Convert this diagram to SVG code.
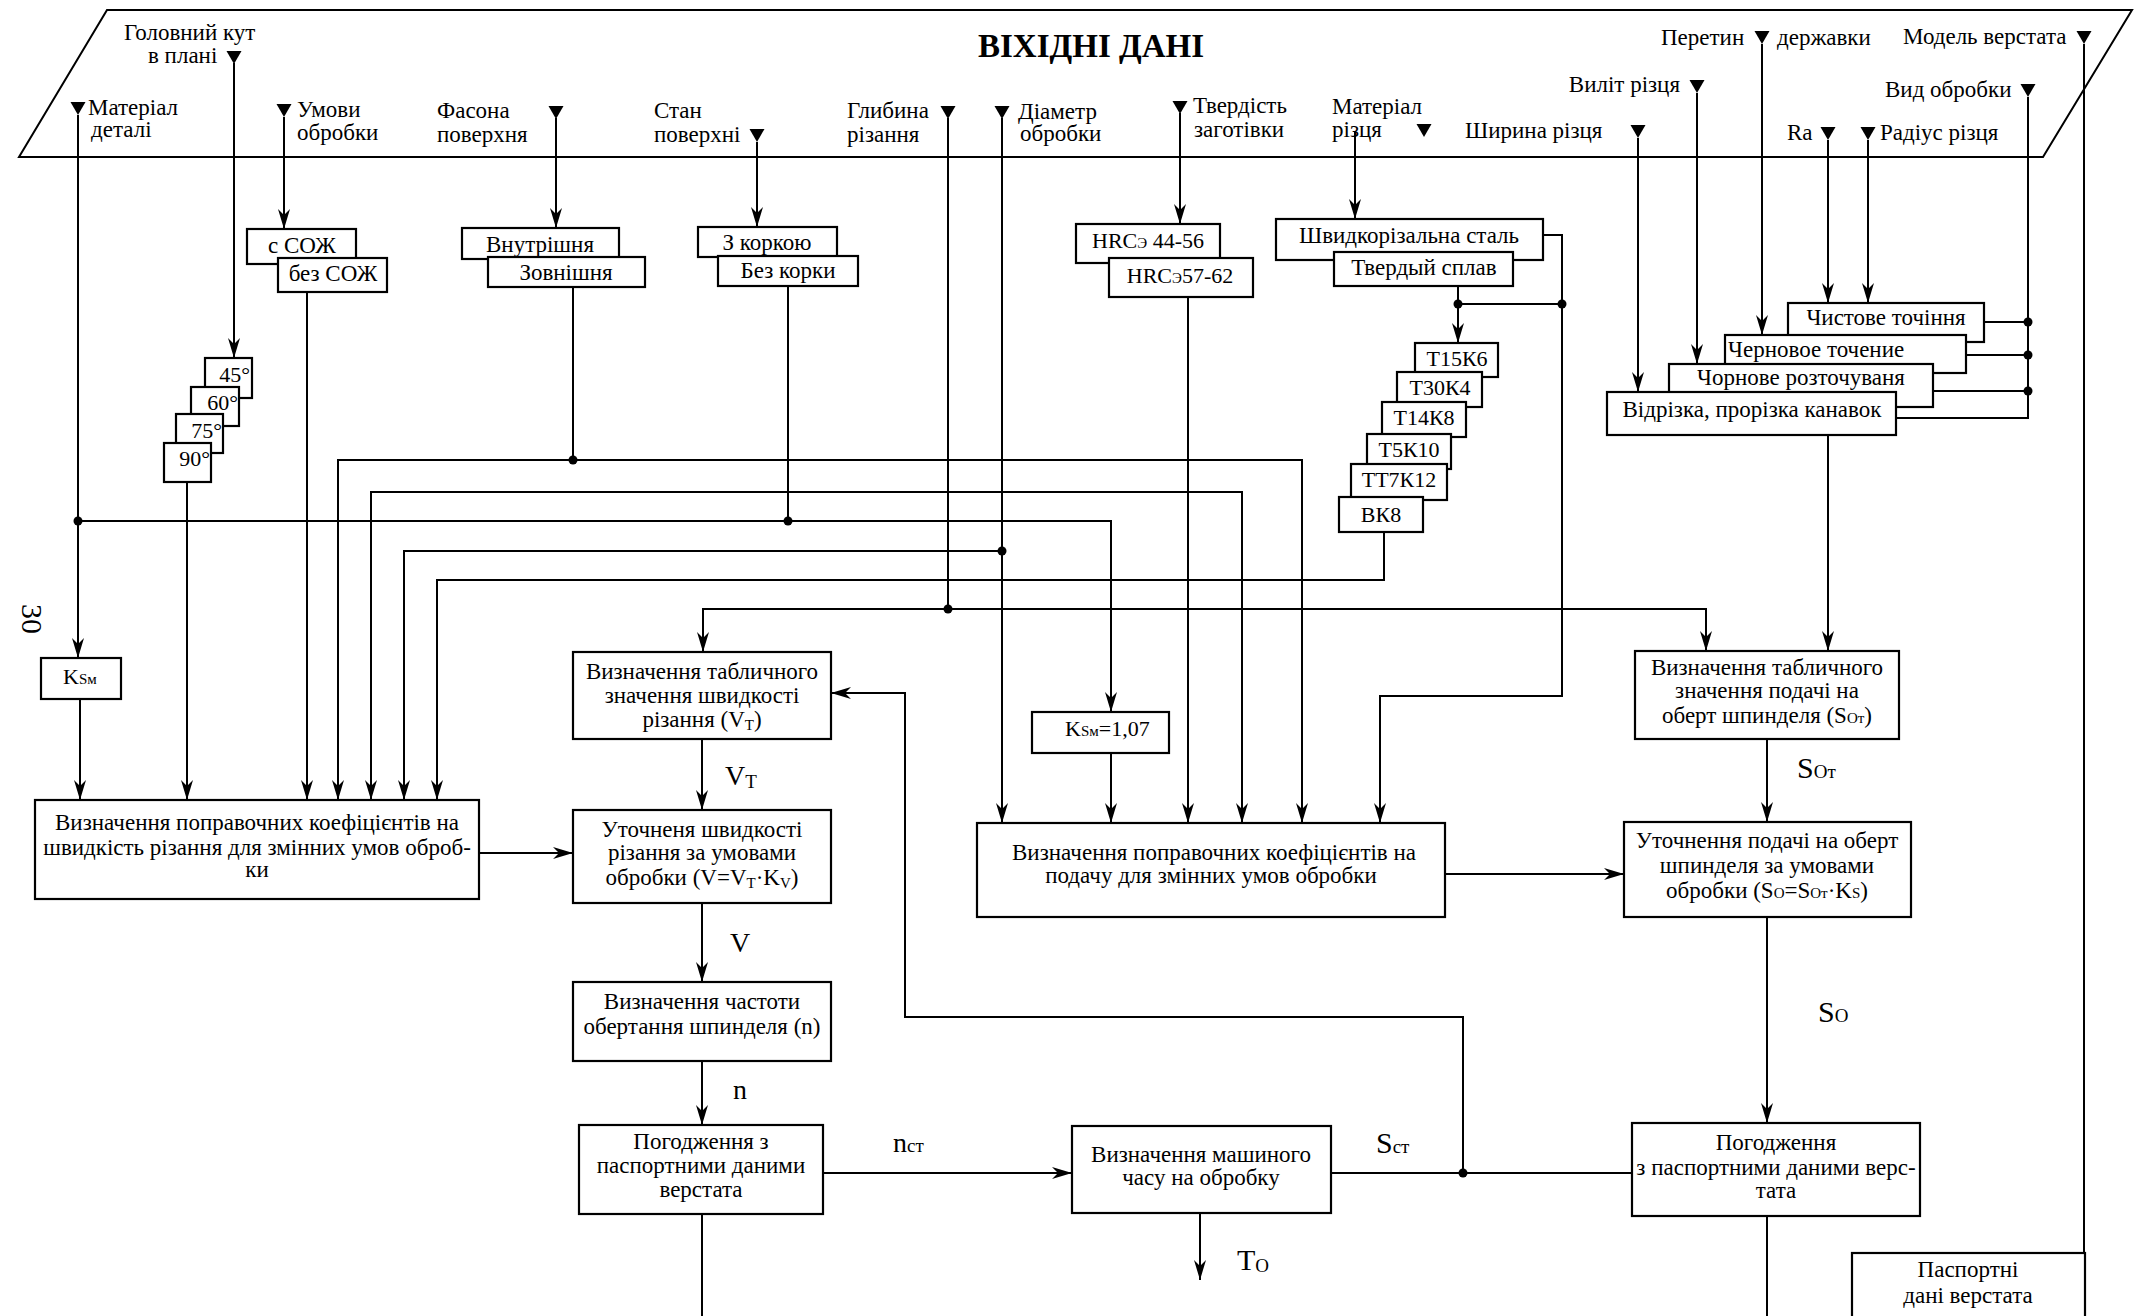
<svg xmlns="http://www.w3.org/2000/svg" xmlns:xlink="http://www.w3.org/1999/xlink" width="2143" height="1316" viewBox="0 0 2143 1316">
<style>
.ln{fill:none;stroke:#000;stroke-width:2}
.ar{marker-end:url(#ah)}
.bx{fill:#fff;stroke:#000;stroke-width:2.2}
.dot{fill:#000}
text{font-family:"Liberation Serif","Times New Roman",serif;font-size:23px;fill:#000}
.c{text-anchor:middle}
.e{text-anchor:end}
.k{font-size:22px}
.ttl{font-size:33px;font-weight:bold}
.lb{font-size:28px}
.lbs{font-size:30px}
.sb{font-size:15px}
.sbl{font-size:19px}
</style>
<defs>
<marker id="ah" viewBox="0 0 20 12" refX="20" refY="6" markerWidth="20" markerHeight="12" markerUnits="userSpaceOnUse" orient="auto">
<path d="M0,0 L20,6 L0,12 L6,6 Z" fill="#000"/>
</marker>
<path id="tri" d="M-7.5,0 H7.5 L0,13 Z" fill="#000"/>
</defs>
<rect width="2143" height="1316" fill="#fff"/>

<!-- input data banner -->
<g id="input-data">
<polygon points="107,10 2132,10 2043,157 19,157" fill="none" stroke="#000" stroke-width="2"/>
<text x="978" y="57" class="ttl">ВІХІДНІ ДАНІ</text>
<g id="in-angle"><use xlink:href="#tri" x="234" y="51"/><text x="124" y="40">Головний кут</text><text x="148" y="63">в плані</text></g>
<g id="in-material"><use xlink:href="#tri" x="78" y="102"/><text x="88" y="115">Матеріал</text><text x="91" y="137">деталі</text></g>
<g id="in-conditions"><use xlink:href="#tri" x="284" y="104"/><text x="297" y="117">Умови</text><text x="297" y="140">обробки</text></g>
<g id="in-shape"><use xlink:href="#tri" x="556" y="106"/><text x="437" y="118">Фасона</text><text x="437" y="142">поверхня</text></g>
<g id="in-surface"><use xlink:href="#tri" x="757" y="129"/><text x="654" y="118">Стан</text><text x="654" y="142">поверхні</text></g>
<g id="in-depth"><use xlink:href="#tri" x="948" y="106"/><text x="847" y="118">Глибина</text><text x="847" y="142">різання</text></g>
<g id="in-diameter"><use xlink:href="#tri" x="1002" y="106"/><text x="1018" y="119">Діаметр</text><text x="1020" y="141">обробки</text></g>
<g id="in-hardness"><use xlink:href="#tri" x="1180" y="101"/><text x="1193" y="113">Твердість</text><text x="1194" y="137">заготівки</text></g>
<g id="in-tool-material"><use xlink:href="#tri" x="1424" y="124"/><text x="1332" y="114">Матеріал</text><text x="1332" y="137">різця</text></g>
<g id="in-width"><use xlink:href="#tri" x="1638" y="125"/><text x="1465" y="138">Ширина різця</text></g>
<g id="in-overhang"><use xlink:href="#tri" x="1697" y="80"/><text x="1680" y="92" class="e">Виліт різця</text></g>
<g id="in-holder"><use xlink:href="#tri" x="1762" y="31"/><text x="1661" y="45">Перетин</text><text x="1777" y="45">державки</text></g>
<g id="in-machine"><use xlink:href="#tri" x="2084" y="31"/><text x="1903" y="44">Модель верстата</text></g>
<g id="in-kind"><use xlink:href="#tri" x="2028" y="84"/><text x="1885" y="97">Вид обробки</text></g>
<g id="in-ra"><use xlink:href="#tri" x="1828" y="127"/><text x="1787" y="140">Ra</text></g>
<g id="in-radius"><use xlink:href="#tri" x="1868" y="127"/><text x="1880" y="140">Радіус різця</text></g>
</g>

<text x="22" y="604" class="lbs" transform="rotate(90 22 604)">30</text>

<!-- connectors -->
<g id="connectors">
<path class="ln ar" d="M234,63 V358"/>
<path class="ln ar" d="M78,115 V658"/>
<path class="ln ar" d="M284,117 V229"/>
<path class="ln ar" d="M556,118 V228"/>
<path class="ln ar" d="M757,142 V227"/>
<path class="ln" d="M948,118 V609"/>
<path class="ln ar" d="M1002,118 V823"/>
<path class="ln ar" d="M1180,113 V224"/>
<path class="ln ar" d="M1355,131 V219"/>
<path class="ln ar" d="M1638,138 V392"/>
<path class="ln ar" d="M1697,93 V364"/>
<path class="ln ar" d="M1762,44 V335"/>
<path class="ln" d="M2084,44 V1253"/>
<path class="ln" d="M2028,97 V418 H1896"/>
<path class="ln ar" d="M1828,140 V303"/>
<path class="ln ar" d="M1868,140 V303"/>
<path class="ln" d="M1984,322 H2028 M1966,355 H2028 M1933,391 H2028"/>
<path class="ln ar" d="M1828,435 V651"/>
<path class="ln ar" d="M307,292 V800"/>
<path class="ln ar" d="M187,482 V800"/>
<path class="ln ar" d="M80,699 V800"/>
<path class="ln" d="M573,287 V460"/>
<path class="ln ar" d="M573,460 H338 V800"/>
<path class="ln ar" d="M573,460 H1302 V823"/>
<path class="ln ar" d="M800,492 H371 V800"/>
<path class="ln ar" d="M800,492 H1242 V823"/>
<path class="ln ar" d="M78,521 H1111 V712"/>
<path class="ln" d="M788,286 V521"/>
<path class="ln ar" d="M1111,753 V823"/>
<path class="ln ar" d="M1002,551 H404 V800"/>
<path class="ln ar" d="M1384,532 V580 H437 V800"/>
<path class="ln ar" d="M948,609 H703 V652"/>
<path class="ln ar" d="M948,609 H1706 V651"/>
<path class="ln ar" d="M1188,297 V823"/>
<path class="ln ar" d="M1543,235 H1562 V696 H1380 V823"/>
<path class="ln ar" d="M1458,286 V343"/>
<path class="ln" d="M1458,304 H1562"/>
<path class="ln ar" d="M479,853 H573"/>
<path class="ln ar" d="M702,739 V810"/>
<path class="ln ar" d="M702,903 V982"/>
<path class="ln ar" d="M702,1061 V1125"/>
<path class="ln" d="M702,1214 V1316"/>
<path class="ln ar" d="M823,1173 H1072"/>
<path class="ln ar" d="M1200,1213 V1280"/>
<path class="ln" d="M1632,1173 H1331"/>
<path class="ln ar" d="M1463,1173 V1017 H905 V693 H831"/>
<path class="ln ar" d="M1445,874 H1624"/>
<path class="ln ar" d="M1767,739 V822"/>
<path class="ln ar" d="M1767,917 V1123"/>
<path class="ln" d="M1767,1216 V1316"/>
<g class="dot">
<circle cx="78" cy="521" r="4.5"/><circle cx="573" cy="460" r="4.5"/><circle cx="788" cy="521" r="4.5"/>
<circle cx="1002" cy="551" r="4.5"/><circle cx="948" cy="609" r="4.5"/><circle cx="1458" cy="304" r="4.5"/>
<circle cx="1562" cy="304" r="4.5"/><circle cx="2028" cy="322" r="4.5"/><circle cx="2028" cy="355" r="4.5"/>
<circle cx="2028" cy="391" r="4.5"/><circle cx="1463" cy="1173" r="4.5"/>
</g>
<text x="725" y="785" class="lb">V<tspan class="sbl" dy="3">T</tspan></text>
<text x="730" y="952" class="lb">V</text>
<text x="733" y="1099" class="lb">n</text>
<text x="893" y="1152" class="lb">n<tspan class="sbl">ст</tspan></text>
<text x="1237" y="1270" class="lbs">T<tspan class="sbl" dy="2">O</tspan></text>
<text x="1376" y="1153" class="lbs">S<tspan class="sbl">ст</tspan></text>
<text x="1797" y="778" class="lbs">S<tspan class="sbl">Oт</tspan></text>
<text x="1818" y="1022" class="lbs">S<tspan class="sbl">O</tspan></text>
</g>

<!-- option stacks -->
<g id="coolant">
<g id="opt-with-coolant"><rect class="bx" x="247" y="229" width="109" height="35"/><text x="302" y="253" class="c">с СОЖ</text></g>
<g id="opt-no-coolant"><rect class="bx" x="278" y="258" width="109" height="34"/><text x="333" y="281" class="c">без СОЖ</text></g>
</g>
<g id="shape">
<g id="opt-inner"><rect class="bx" x="462" y="228" width="157" height="31"/><text x="540" y="252" class="c">Внутрішня</text></g>
<g id="opt-outer"><rect class="bx" x="488" y="257" width="157" height="30"/><text x="566" y="280" class="c">Зовнішня</text></g>
</g>
<g id="surface">
<g id="opt-crust"><rect class="bx" x="698" y="227" width="139" height="30"/><text x="767" y="250" class="c">З коркою</text></g>
<g id="opt-no-crust"><rect class="bx" x="718" y="256" width="140" height="30"/><text x="788" y="278" class="c">Без корки</text></g>
</g>
<g id="angles">
<g id="opt-45"><rect class="bx" x="205" y="358" width="47" height="40"/><text x="250" y="382" class="e k">45°</text></g>
<g id="opt-60"><rect class="bx" x="191" y="387" width="48" height="39"/><text x="238" y="410" class="e k">60°</text></g>
<g id="opt-75"><rect class="bx" x="176" y="414" width="47" height="39"/><text x="222" y="438" class="e k">75°</text></g>
<g id="opt-90"><rect class="bx" x="164" y="443" width="47" height="39"/><text x="210" y="466" class="e k">90°</text></g>
</g>
<g id="hardness">
<g id="opt-hrc1"><rect class="bx" x="1076" y="224" width="144" height="39"/><text x="1148" y="248" class="c k">HRC<tspan class="sb">Э</tspan> 44-56</text></g>
<g id="opt-hrc2"><rect class="bx" x="1109" y="258" width="144" height="39"/><text x="1180" y="283" class="c k">HRC<tspan class="sb">Э</tspan>57-62</text></g>
</g>
<g id="tool-material">
<g id="opt-hss"><rect class="bx" x="1276" y="219" width="267" height="41"/><text x="1409" y="243" class="c">Швидкорізальна сталь</text></g>
<g id="opt-carbide"><rect class="bx" x="1334" y="252" width="179" height="34"/><text x="1424" y="275" class="c">Твердый сплав</text></g>
</g>
<g id="grades">
<g id="g-t15k6"><rect class="bx" x="1415" y="343" width="83" height="34"/><text x="1457" y="366" class="c k">Т15К6</text></g>
<g id="g-t30k4"><rect class="bx" x="1397" y="372" width="85" height="35"/><text x="1440" y="395" class="c k">Т30К4</text></g>
<g id="g-t14k8"><rect class="bx" x="1382" y="402" width="84" height="35"/><text x="1424" y="425" class="c k">Т14К8</text></g>
<g id="g-t5k10"><rect class="bx" x="1367" y="434" width="84" height="35"/><text x="1409" y="457" class="c k">Т5К10</text></g>
<g id="g-tt7k12"><rect class="bx" x="1351" y="464" width="96" height="36"/><text x="1399" y="487" class="c k">ТТ7К12</text></g>
<g id="g-vk8"><rect class="bx" x="1339" y="497" width="84" height="35"/><text x="1381" y="522" class="c k">ВК8</text></g>
</g>
<g id="operation">
<g id="op-finish"><rect class="bx" x="1788" y="303" width="196" height="39"/><text x="1886" y="325" class="c">Чистове точіння</text></g>
<g id="op-rough"><rect class="bx" x="1725" y="335" width="241" height="38"/><text x="1728" y="357">Черновое точение</text></g>
<g id="op-boring"><rect class="bx" x="1669" y="364" width="264" height="43"/><text x="1801" y="385" class="c">Чорнове розточуваня</text></g>
<g id="op-parting"><rect class="bx" x="1607" y="392" width="289" height="43"/><text x="1752" y="417" class="c">Відрізка, прорізка канавок</text></g>
</g>

<!-- process blocks -->
<g id="k-sm"><rect class="bx" x="41" y="658" width="80" height="41"/><text x="63" y="684" class="k">K<tspan class="sb">Sм</tspan></text></g>
<g id="k-sm-107"><rect class="bx" x="1032" y="712" width="137" height="41"/><text x="1065" y="736" class="k">K<tspan class="sb">Sм</tspan>=1,07</text></g>
<g id="speed-factors"><rect class="bx" x="35" y="800" width="444" height="99"/>
<text x="257" y="830" class="c">Визначення поправочних коефіцієнтів на</text>
<text x="257" y="855" class="c">швидкість різання для змінних умов оброб-</text>
<text x="257" y="877" class="c">ки</text></g>
<g id="speed-table"><rect class="bx" x="573" y="652" width="258" height="87"/>
<text x="702" y="679" class="c">Визначення табличного</text>
<text x="702" y="703" class="c">значення швидкості</text>
<text x="702" y="727" class="c">різання (V<tspan class="sb" dy="3">T</tspan><tspan dy="-3">)</tspan></text></g>
<g id="speed-refine"><rect class="bx" x="573" y="810" width="258" height="93"/>
<text x="702" y="837" class="c">Уточненя швидкості</text>
<text x="702" y="860" class="c">різання за умовами</text>
<text x="702" y="885" class="c">обробки (V=V<tspan class="sb" dy="3">T</tspan><tspan dy="-3">·K</tspan><tspan class="sb" dy="3">V</tspan><tspan dy="-3">)</tspan></text></g>
<g id="spindle-rpm"><rect class="bx" x="573" y="982" width="258" height="79"/>
<text x="702" y="1009" class="c">Визначення частоти</text>
<text x="702" y="1034" class="c">обертання шпинделя (n)</text></g>
<g id="rpm-match"><rect class="bx" x="579" y="1125" width="244" height="89"/>
<text x="701" y="1149" class="c">Погодження з</text>
<text x="701" y="1173" class="c">паспортними даними</text>
<text x="701" y="1197" class="c">верстата</text></g>
<g id="machine-time"><rect class="bx" x="1072" y="1126" width="259" height="87"/>
<text x="1201" y="1162" class="c">Визначення машиного</text>
<text x="1201" y="1185" class="c">часу на обробку</text></g>
<g id="feed-factors"><rect class="bx" x="977" y="823" width="468" height="94"/>
<text x="1214" y="860" class="c">Визначення поправочних коефіцієнтів на</text>
<text x="1211" y="883" class="c">подачу для змінних умов обробки</text></g>
<g id="feed-table"><rect class="bx" x="1635" y="651" width="264" height="88"/>
<text x="1767" y="675" class="c">Визначення табличного</text>
<text x="1767" y="698" class="c">значення подачі на</text>
<text x="1767" y="723" class="c">оберт шпинделя (S<tspan class="sb">Oт</tspan>)</text></g>
<g id="feed-refine"><rect class="bx" x="1624" y="822" width="287" height="95"/>
<text x="1767" y="848" class="c">Уточнення подачі на оберт</text>
<text x="1767" y="873" class="c">шпинделя за умовами</text>
<text x="1767" y="898" class="c">обробки (S<tspan class="sb">O</tspan>=S<tspan class="sb">Oт</tspan>·K<tspan class="sb">S</tspan>)</text></g>
<g id="feed-match"><rect class="bx" x="1632" y="1123" width="288" height="93"/>
<text x="1776" y="1150" class="c">Погодження</text>
<text x="1776" y="1175" class="c">з паспортними даними верс-</text>
<text x="1776" y="1198" class="c">тата</text></g>
<g id="machine-data"><rect class="bx" x="1852" y="1253" width="233" height="80"/>
<text x="1968" y="1277" class="c">Паспортні</text>
<text x="1968" y="1303" class="c">дані верстата</text></g>
</svg>
